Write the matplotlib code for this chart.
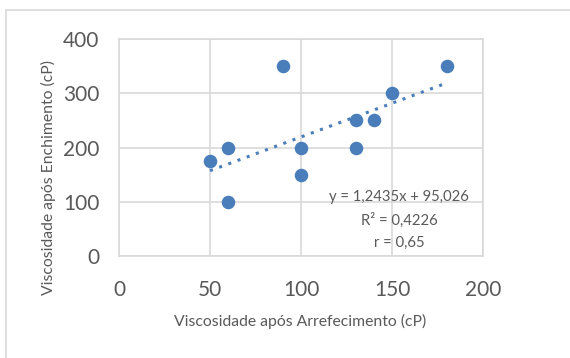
import numpy as np
import matplotlib.pyplot as plt
from matplotlib.patches import Rectangle

# Data
x = [50, 60, 60, 90, 100, 100, 130, 130, 140, 150, 180]
y = [175, 200, 100, 350, 200, 150, 250, 200, 250, 300, 350]
slope, intercept = 1.2435, 95.026
eq_lines = ["y = 1,2435x + 95,026", "R² = 0,4226", "r = 0,65"]

plt.rcParams['font.family'] = ['Lato', 'DejaVu Sans']
blue = '#4a7ebb'
grid = '#d9d9d9'
txt = '#595959'

fig = plt.figure(figsize=(5.7, 3.58), dpi=100)
ax = fig.add_axes([119/570, 1-256/358, 364/570, 217/358])

# chart border
fig.patches.append(Rectangle((6/570, -0.1), 1.1, 1-10/358+0.1, transform=fig.transFigure,
                             fill=False, edgecolor='#d9d9d9', lw=1.2))

ax.scatter(x, y, s=95, color=blue, zorder=3, linewidths=0)
xt = np.array([50, 180])
ax.plot(xt, slope*xt + intercept, color=blue, ls=(0, (1, 2.2)), lw=2.2, zorder=2)

ax.set_xlim(0, 200)
ax.set_ylim(0, 400)
ax.set_xticks([0, 50, 100, 150, 200])
ax.set_yticks([0, 100, 200, 300, 400])
ax.grid(True, color=grid, lw=1.2, zorder=0)
for s in ax.spines.values():
    s.set_color(grid)
    s.set_linewidth(1.2)
ax.tick_params(length=0, labelsize=15, labelcolor=txt)
ax.tick_params(axis='x', pad=17)
ax.tick_params(axis='y', pad=14)
ax.set_xlabel('Viscosidade após Arrefecimento (cP)', fontsize=11.3, color=txt, va='center')
ax.set_ylabel('Viscosidade após Enchimento (cP)', fontsize=11.3, color=txt, va='center')
ax.xaxis.set_label_coords(0.497, -0.304)
ax.yaxis.set_label_coords(-0.195, 0.362)

for i, t in enumerate(eq_lines):
    ax.text(154, 109 - i*42.5, t, ha='center', va='center', fontsize=10.7, color=txt, zorder=4)

fig.savefig('out.png', dpi=100)
